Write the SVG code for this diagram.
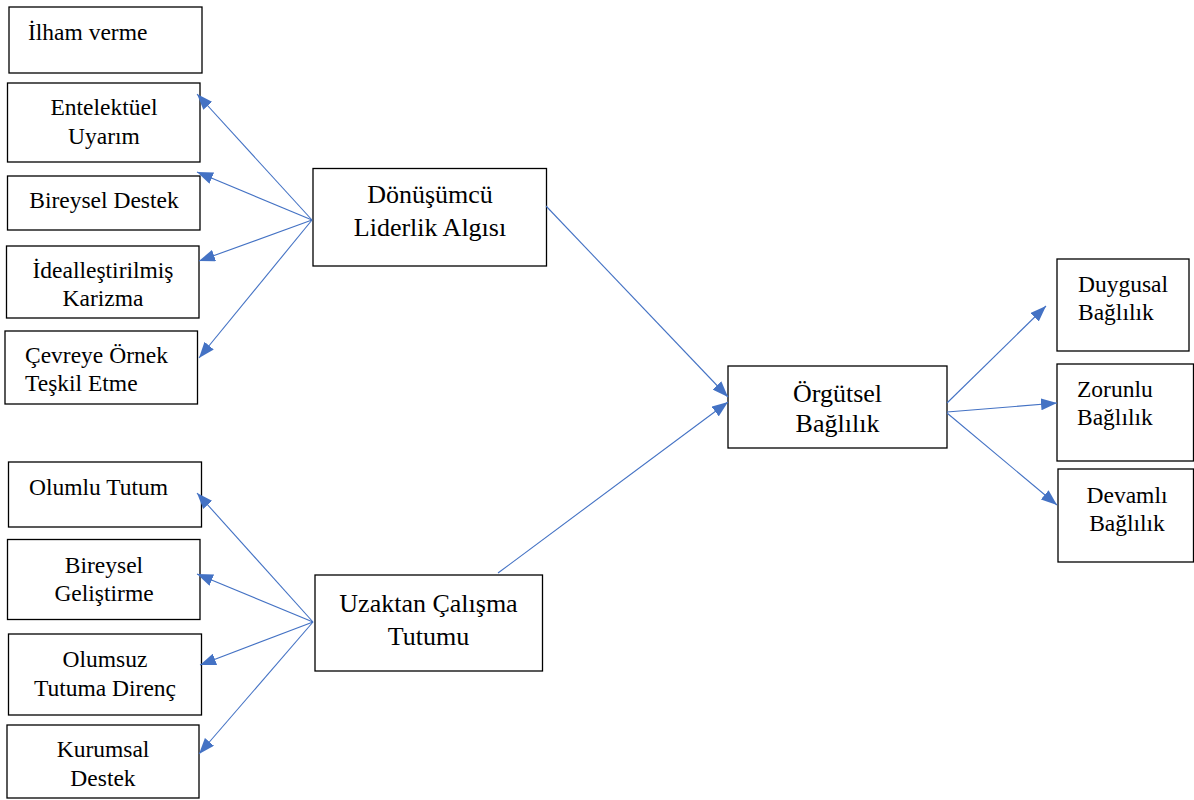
<svg xmlns="http://www.w3.org/2000/svg" width="1194" height="800" viewBox="0 0 1194 800">
<style>
.box{fill:#fff;stroke:#000;stroke-width:1.3}
.t{font-family:"Liberation Serif","Times New Roman",serif;font-size:23.5px;fill:#000}
.tb{font-family:"Liberation Serif","Times New Roman",serif;font-size:26px;fill:#000}
.m{text-anchor:middle}
.c{stroke:#4472C4;stroke-width:1.1;fill:none}
</style>
<defs>
<marker id="ah" viewBox="0 0 16 12" refX="16" refY="6" markerWidth="16" markerHeight="12" markerUnits="userSpaceOnUse" orient="auto">
<path d="M0,0 L16,6 L0,12 z" fill="#4472C4"/>
</marker>
</defs>
<rect width="1194" height="800" fill="#fff"/>

<g id="ilham"><rect class="box" x="9" y="7" width="193" height="66"/><text class="t" x="28" y="40">İlham verme</text></g>
<g id="entelektuel"><rect class="box" x="7.5" y="83" width="192.5" height="79"/><text class="t m" x="104" y="115">Entelektüel</text><text class="t m" x="104" y="144">Uyarım</text></g>
<g id="bireysel-destek"><rect class="box" x="7.5" y="176" width="192.5" height="54"/><text class="t m" x="104" y="208">Bireysel Destek</text></g>
<g id="ideallestirilmis"><rect class="box" x="6.5" y="246" width="192.5" height="72"/><text class="t m" x="103" y="278">İdealleştirilmiş</text><text class="t m" x="103" y="306">Karizma</text></g>
<g id="cevreye"><rect class="box" x="5" y="331" width="192.5" height="73"/><text class="t" x="25" y="363">Çevreye Örnek</text><text class="t" x="25" y="391">Teşkil Etme</text></g>

<g id="donusumcu"><rect class="box" x="313" y="168.5" width="233.5" height="97.5"/><text class="tb m" x="430" y="203">Dönüşümcü</text><text class="tb m" x="430" y="236">Liderlik Algısı</text></g>

<g id="olumlu"><rect class="box" x="8.5" y="462" width="193" height="65"/><text class="t" x="29" y="495">Olumlu Tutum</text></g>
<g id="bireysel-gelistirme"><rect class="box" x="7.5" y="539.5" width="192.5" height="80"/><text class="t m" x="104" y="573">Bireysel</text><text class="t m" x="104" y="601">Geliştirme</text></g>
<g id="olumsuz"><rect class="box" x="8.5" y="634" width="193" height="81"/><text class="t m" x="105" y="667">Olumsuz</text><text class="t m" x="105" y="696">Tutuma Direnç</text></g>
<g id="kurumsal"><rect class="box" x="7" y="725" width="192" height="73"/><text class="t m" x="103" y="757">Kurumsal</text><text class="t m" x="103" y="786">Destek</text></g>

<g id="uzaktan"><rect class="box" x="315" y="575" width="227.5" height="96"/><text class="tb m" x="428.5" y="612">Uzaktan Çalışma</text><text class="tb m" x="428.5" y="645">Tutumu</text></g>

<g id="orgutsel"><rect class="box" x="728" y="366" width="219" height="82"/><text class="tb m" x="837.5" y="402">Örgütsel</text><text class="tb m" x="837.5" y="432">Bağlılık</text></g>

<g id="duygusal"><rect class="box" x="1057" y="259" width="132" height="92"/><text class="t" x="1078" y="292">Duygusal</text><text class="t" x="1078" y="320">Bağlılık</text></g>
<g id="zorunlu"><rect class="box" x="1057" y="364" width="136.5" height="97"/><text class="t" x="1077" y="397">Zorunlu</text><text class="t" x="1077" y="425">Bağlılık</text></g>
<g id="devamli"><rect class="box" x="1058" y="469" width="135.5" height="93"/><text class="t m" x="1127" y="503">Devamlı</text><text class="t m" x="1127" y="531">Bağlılık</text></g>

<g id="connectors">
<line class="c" x1="312" y1="220" x2="197" y2="94" marker-end="url(#ah)"/>
<line class="c" x1="312" y1="220" x2="197" y2="172" marker-end="url(#ah)"/>
<line class="c" x1="312" y1="220" x2="199" y2="261" marker-end="url(#ah)"/>
<line class="c" x1="312" y1="220" x2="199" y2="358" marker-end="url(#ah)"/>
<line class="c" x1="313" y1="622" x2="197" y2="493" marker-end="url(#ah)"/>
<line class="c" x1="313" y1="622" x2="197" y2="574" marker-end="url(#ah)"/>
<line class="c" x1="313" y1="622" x2="200" y2="665" marker-end="url(#ah)"/>
<line class="c" x1="313" y1="622" x2="199" y2="754" marker-end="url(#ah)"/>
<line class="c" x1="546" y1="206" x2="728" y2="397" marker-end="url(#ah)"/>
<line class="c" x1="498" y1="573" x2="728" y2="402" marker-end="url(#ah)"/>
<line class="c" x1="947" y1="403" x2="1046" y2="306" marker-end="url(#ah)"/>
<line class="c" x1="947" y1="412" x2="1057" y2="403" marker-end="url(#ah)"/>
<line class="c" x1="947" y1="413" x2="1057" y2="505" marker-end="url(#ah)"/>
</g>
</svg>
